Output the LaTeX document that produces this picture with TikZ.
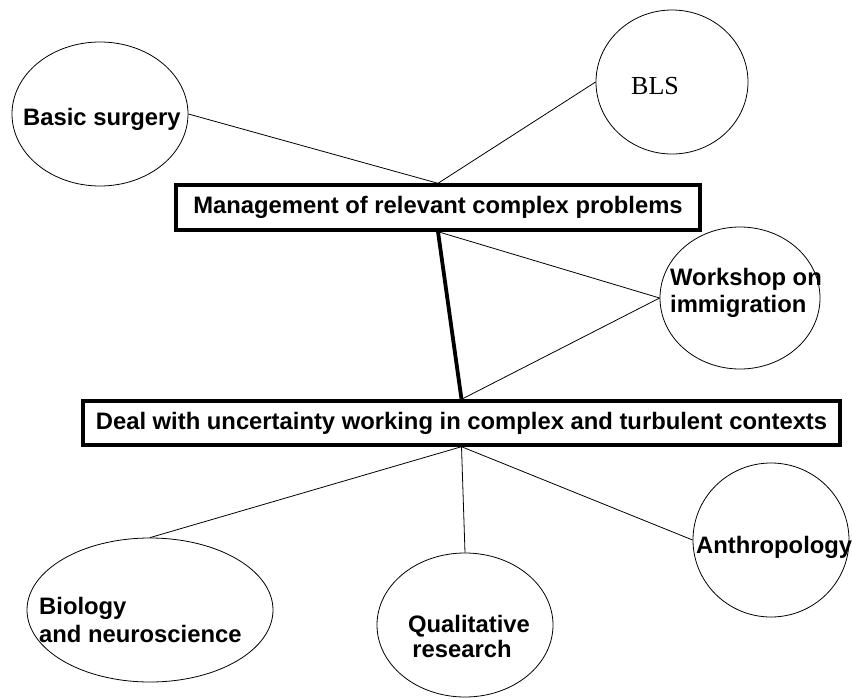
\documentclass[tikz,border=0pt]{standalone}
\usepackage{fontspec}
\setmainfont{Liberation Sans}
\newfontfamily\serifbls{Liberation Serif}
\usetikzlibrary{shapes.geometric}
\tikzset{
  bubble/.style={draw, ellipse, line width=0.8pt, inner sep=0pt},
  lbl/.style={font=\fontsize{23.8}{27}\selectfont\bfseries, inner sep=0pt},
  topicbox/.style={draw, rectangle, line width=3.4pt, inner sep=0pt,
    font=\fontsize{23.8}{27}\selectfont\bfseries},
  thin/.style={line width=0.8pt},
  thick link/.style={line width=3.8pt}
}
\begin{document}
\begin{tikzpicture}[x=1pt,y=-1pt]
\useasboundingbox (0,0) rectangle (852,699);
% ellipses
\node[bubble, minimum width=176pt, minimum height=144pt] (bs) at (100,114) {};
\node[bubble, minimum width=152pt, minimum height=144pt] (bls) at (672,82) {};
\node[bubble, minimum width=160pt, minimum height=142pt] (ws) at (740,298) {};
\node[bubble, minimum width=156pt, minimum height=154pt] (anth) at (771,540) {};
\node[bubble, minimum width=176pt, minimum height=144pt] (qual) at (465,625) {};
\node[bubble, minimum width=246pt, minimum height=144pt] (bio) at (150,610) {};
% boxes
\node[topicbox, minimum width=524pt, minimum height=45pt] (mgmt) at (438,207.5)
  {Management of relevant complex problems};
\node[topicbox, minimum width=757pt, minimum height=44pt] (deal) at (461.5,423)
  {Deal with uncertainty working in complex and turbulent contexts};
% labels
\node[lbl, anchor=base west] (bst) at (23,125) {Basic surgery};
\node[inner sep=0pt, anchor=base west, font=\serifbls\fontsize{26}{30}\selectfont] (blst) at (631,94) {BLS};
\node[lbl, anchor=base west] (wst1) at (670,285) {Workshop on};
\node[lbl, anchor=base west] (wst2) at (670,312) {immigration};
\node[lbl, anchor=base west] (antht) at (696,553) {Anthropology};
\node[lbl, anchor=base] (qualt1) at (469,632) {Qualitative};
\node[lbl, anchor=base] (qualt2) at (462,657) {research};
\node[lbl, anchor=base west] (biot1) at (39,614) {Biology};
\node[lbl, anchor=base west] (biot2) at (39,642) {and neuroscience};
% connectors
\draw[thin] (bs.east) -- (mgmt.north);
\draw[thin] (bls.west) -- (mgmt.north);
\draw[thick link] (mgmt.south) -- (deal.north);
\draw[thin] (mgmt.south) -- (ws.west);
\draw[thin] (deal.north) -- (ws.west);
\draw[thin] (deal.south) -- (bio.north);
\draw[thin] (deal.south) -- (qual.north);
\draw[thin] (deal.south) -- (anth.west);
\end{tikzpicture}
\end{document}
